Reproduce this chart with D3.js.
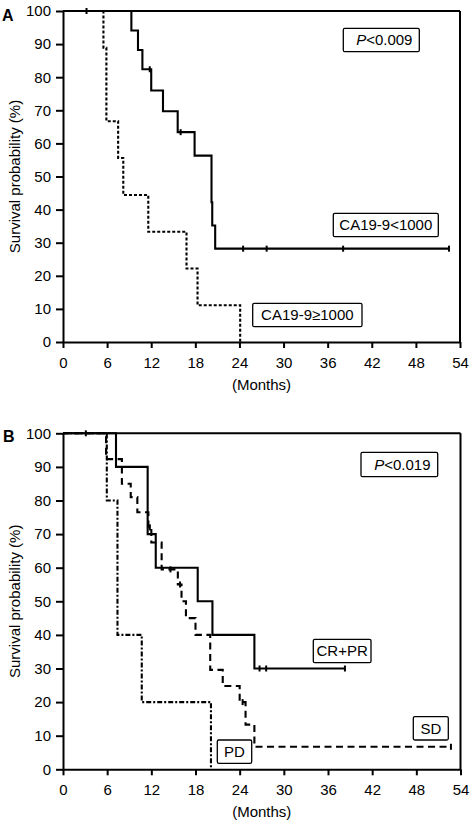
<!DOCTYPE html>
<html>
<head>
<meta charset="utf-8">
<script src="https://cdn.jsdelivr.net/npm/d3@7"></script>
<style>
  html, body { margin: 0; padding: 0; background: #fff; }
  svg { display: block; font-family: "Liberation Sans", Arial, Helvetica, sans-serif; }
</style>
</head>
<body>
<svg id="chart" width="472" height="824"></svg>
<script>
// ---------------- DATA ----------------
const monthTicks = [0, 6, 12, 18, 24, 30, 36, 42, 48, 54];
const survTicks = [0, 10, 20, 30, 40, 50, 60, 70, 80, 90, 100];
const xLabel = "(Months)";
const yLabel = "Survival probability (%)";

// Panel A
const aLowName = "CA19-9<1000";
const aLowTimes = [0, 9.3, 10.2, 10.8, 12.0, 13.6, 15.6, 17.9, 20.2, 20.3, 20.7, 52.5];
const aLowSurv  = [100, 94.1, 88.2, 82.4, 76.0, 69.7, 63.4, 56.3, 42.2, 35.2, 28.2, 28.2];
const aLowCensor = [11.8, 16.0, 24.5, 27.7, 38.1, 52.5];

const aHighName = "CA19-9\u22651000";
const aHighTimes = [0, 5.5, 5.9, 7.5, 8.2, 11.6, 16.8, 18.3, 24.1];
const aHighSurv  = [100, 88.9, 66.7, 55.6, 44.4, 33.3, 22.2, 11.1, 0];
const aHighCensor = [3.2];

const aP = "0.009";

// Panel B
const bCRName = "CR+PR";
const bCRTimes = [0, 7.2, 11.5, 12.6, 18.3, 20.3, 26.0, 38.3];
const bCRSurv  = [100, 90, 70, 60, 50, 40, 30, 30];
const bCRCensor = [26.7, 27.6, 38.3];

const bSDName = "SD";
const bSDTimes = [0, 5.85, 8.0, 9.2, 10.1, 11.6, 12.0, 13.4, 15.6, 16.1, 16.7, 18.0, 20.0, 21.7, 24.0, 24.8, 26.0, 52.7];
const bSDSurv  = [100, 92.3, 85, 81, 76.5, 72, 67.5, 59.5, 55, 50, 45, 40, 29.6, 24.8, 20, 13.3, 6.7, 6.7];
const bSDCensor = [3.1, 11.8, 14.6, 15.9, 24.4, 52.7];

const bPDName = "PD";
const bPDTimes = [0, 5.95, 7.4, 10.7, 20.1];
const bPDSurv  = [100, 80, 40, 20, 0];
const bPDCensor = [];

const bP = "0.019";

// ---------------- LAYOUT ----------------
const svg = d3.select("#chart");
const FONT = 15;

function stepAt(times, surv, t) {
  let v = surv[0];
  for (let i = 0; i < times.length; i++) { if (times[i] <= t + 1e-9) v = surv[i]; }
  return v;
}

function drawPanel(cfg) {
  const g = svg.append("g");
  const x = d3.scaleLinear().domain([0, 54]).range([cfg.left, cfg.right]);
  const y = d3.scaleLinear().domain([0, 100]).range([cfg.bottom, cfg.top]);

  // frame top + right
  g.append("line").attr("x1", cfg.left).attr("x2", cfg.right).attr("y1", cfg.top).attr("y2", cfg.top)
    .attr("stroke", "#000").attr("stroke-width", 2);
  g.append("line").attr("x1", cfg.right).attr("x2", cfg.right).attr("y1", cfg.top).attr("y2", cfg.bottom)
    .attr("stroke", "#000").attr("stroke-width", 2);

  // axes
  const ax = g.append("g").attr("transform", `translate(0,${cfg.bottom})`)
    .call(d3.axisBottom(x).tickValues(monthTicks).tickSize(6).tickSizeOuter(0).tickPadding(9).tickFormat(d3.format("d")));
  const ay = g.append("g").attr("transform", `translate(${cfg.left},0)`)
    .call(d3.axisLeft(y).tickValues(survTicks).tickSize(7).tickSizeOuter(0).tickPadding(5).tickFormat(d3.format("d")));
  [ax, ay].forEach(a => {
    a.select(".domain").attr("stroke", "#000").attr("stroke-width", 2);
    a.selectAll(".tick line").attr("stroke", "#000").attr("stroke-width", 2);
    a.selectAll(".tick text").attr("fill", "#000").style("font-size", FONT + "px")
      .style("font-family", '"Liberation Sans", Arial, sans-serif');
  });

  // axis titles
  g.append("text").attr("x", (cfg.left + cfg.right) / 2).attr("y", cfg.bottom + 48)
    .attr("text-anchor", "middle").style("font-size", FONT + "px").text(xLabel);
  g.append("text").attr("transform", `translate(19.5,${(cfg.top + cfg.bottom) / 2}) rotate(-90)`)
    .attr("text-anchor", "middle").style("font-size", FONT + "px").text(yLabel);

  // panel letter
  g.append("text").attr("x", cfg.letterX).attr("y", cfg.letterY)
    .style("font-size", "16px").style("font-weight", "bold").text(cfg.letter);

  // curves
  const line = d3.line().x(d => x(d[0])).y(d => y(d[1])).curve(d3.curveStepAfter);
  cfg.series.forEach(s => {
    const pts = s.times.map((t, i) => [t, s.surv[i]]);
    g.append("path").datum(pts).attr("d", line)
      .attr("fill", "none").attr("stroke", "#000").attr("stroke-width", 2.1)
      .attr("stroke-dasharray", s.dash || null);
    s.censor.forEach(t => {
      const cx = x(t), cy = y(stepAt(s.times, s.surv, t));
      g.append("line").attr("x1", cx).attr("x2", cx).attr("y1", cy - 3).attr("y2", cy + 3)
        .attr("stroke", "#000").attr("stroke-width", 2);
    });
  });

  // label boxes
  cfg.boxes.forEach(b => {
    g.append("rect").attr("x", b.x0).attr("y", b.y0).attr("width", b.x1 - b.x0).attr("height", b.y1 - b.y0)
      .attr("rx", 1.5).attr("fill", "#fff").attr("stroke", "#000").attr("stroke-width", 1.3);
    const t = g.append("text").attr("x", (b.x0 + b.x1) / 2 + (b.dx || 0)).attr("y", (b.y0 + b.y1) / 2)
      .attr("dy", "0.36em").attr("text-anchor", "middle").style("font-size", FONT + "px");
    if (b.p) {
      t.append("tspan").style("font-style", "italic").text("P");
      t.append("tspan").text("<" + b.p);
    } else {
      t.text(b.text);
    }
  });
}

drawPanel({
  left: 63, right: 460, top: 11, bottom: 342,
  letter: "A", letterX: 2, letterY: 21,
  series: [
    { times: aLowTimes, surv: aLowSurv, censor: aLowCensor },
    { times: aHighTimes, surv: aHighSurv, censor: aHighCensor, dash: "3,2" }
  ],
  boxes: [
    { x0: 343.3, x1: 419.3, y0: 28.3, y1: 51.7, p: aP, dx: 3 },
    { x0: 333.3, x1: 438.3, y0: 213.3, y1: 236.7, text: aLowName },
    { x0: 252.7, x1: 362, y0: 303.3, y1: 326.7, text: aHighName }
  ]
});

drawPanel({
  left: 63, right: 460.5, top: 433.3, bottom: 769.3,
  letter: "B", letterX: 3, letterY: 442,
  series: [
    { times: bCRTimes, surv: bCRSurv, censor: bCRCensor },
    { times: bSDTimes, surv: bSDSurv, censor: bSDCensor, dash: "7,4.5" },
    { times: bPDTimes, surv: bPDSurv, censor: bPDCensor, dash: "5,2,2,2" }
  ],
  boxes: [
    { x0: 361, x1: 437.7, y0: 452.3, y1: 476.7, p: bP, dx: 3 },
    { x0: 313.3, x1: 371, y0: 639.3, y1: 662.7, text: bCRName },
    { x0: 413.3, x1: 448.3, y0: 716.7, y1: 740, text: bSDName },
    { x0: 217.3, x1: 251.7, y0: 740, y1: 763.3, text: bPDName }
  ]
});
</script>
</body>
</html>
